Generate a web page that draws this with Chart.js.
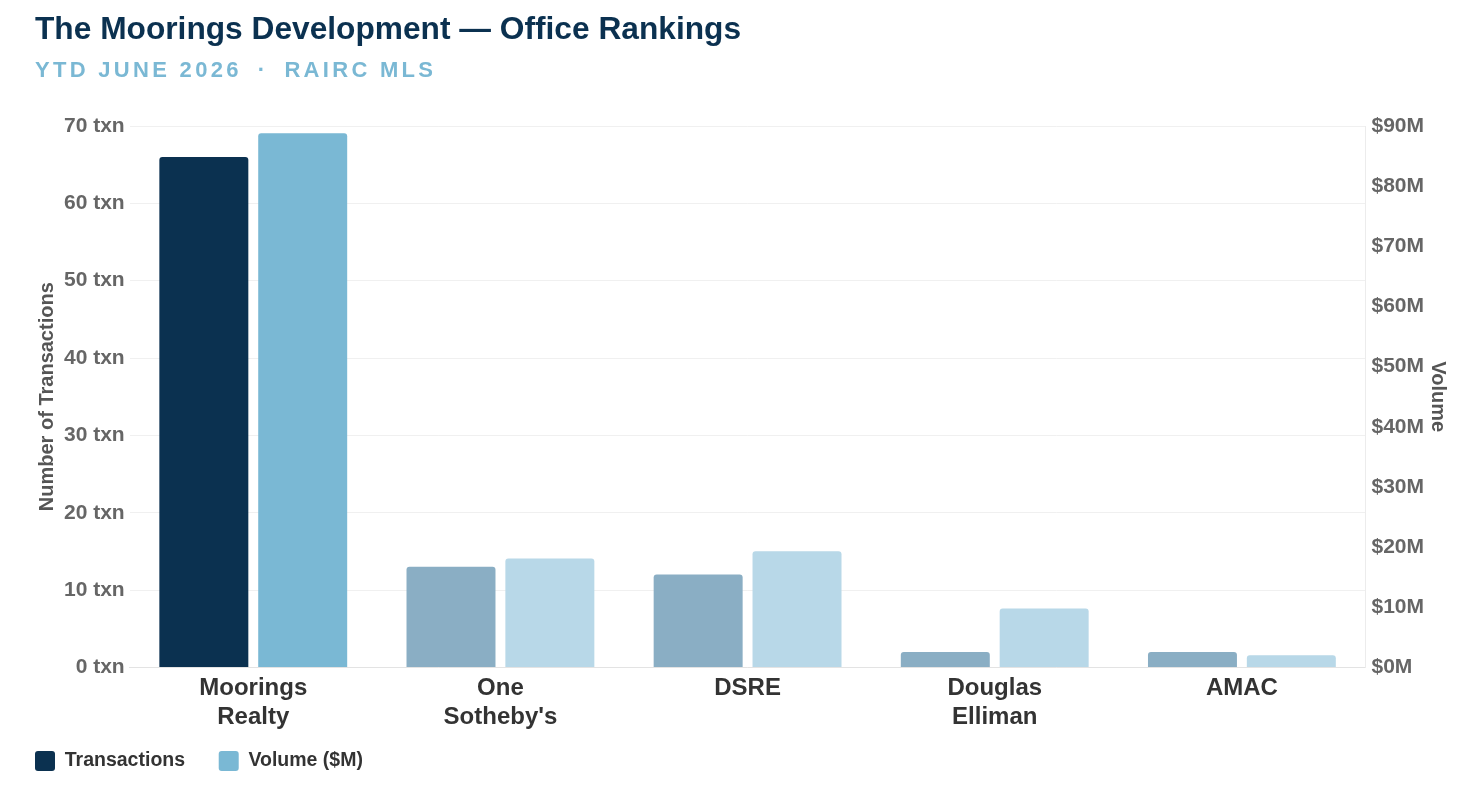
<!DOCTYPE html>
<html>
<head>
<meta charset="utf-8">
<script src="https://cdn.jsdelivr.net/npm/chart.js@4.4.1/dist/chart.umd.min.js"></script>
<style>
  body { margin: 0; background: #fff; font-family: "Liberation Sans", Arial, sans-serif; }
  #wrap { position: absolute; left: 0; top: 0; width: 1470px; height: 792px; }
  .title { position: absolute; left: 35px; top: 10px; font-size: 31.7px; line-height: 36px; font-weight: bold; color: #0b3150; white-space: nowrap; }
  .sub { position: absolute; left: 35px; top: 57px; font-size: 22px; line-height: 26px; font-weight: bold; color: #7ab8d4; letter-spacing: 3.3px; white-space: nowrap; }
</style>
</head>
<body>
<div id="wrap"><canvas id="chart"></canvas></div>
<div class="title">The Moorings Development — Office Rankings</div>
<div class="sub">YTD JUNE 2026<span style="margin:0 16px">·</span>RAIRC MLS</div>
<script>
var categories = [["Moorings", "Realty"], ["One", "Sotheby's"], "DSRE", ["Douglas", "Elliman"], "AMAC"];
var transactions = [66, 13, 12, 2, 2];
var volumeM = [88.8, 18.1, 19.3, 9.8, 2.0];
var txnTicks = [0, 10, 20, 30, 40, 50, 60, 70];
var volTicks = [0, 10, 20, 30, 40, 50, 60, 70, 80, 90];

// first office is highlighted, the rest are muted
var txnColors = ["#0b3150", "#8aaec4", "#8aaec4", "#8aaec4", "#8aaec4"];
var volColors = ["#7ab8d4", "#b8d8e8", "#b8d8e8", "#b8d8e8", "#b8d8e8"];
var legendColors = ["#0b3150", "#7ab8d4"];

var font = '"Liberation Sans", Arial, sans-serif';

var ctx = document.getElementById("chart").getContext("2d");
var chart = new Chart(ctx, {
  type: "bar",
  data: {
    labels: categories,
    datasets: [
      {
        label: "Transactions",
        data: transactions,
        backgroundColor: txnColors,
        borderRadius: 3,
        yAxisID: "y",
      },
      {
        label: "Volume ($M)",
        data: volumeM,
        backgroundColor: volColors,
        borderRadius: 3,
        yAxisID: "y1",
      },
    ],
  },
  options: {
    responsive: true,
    maintainAspectRatio: false,
    animation: false,
    layout: {
      padding: { top: 126, left: 23, right: 19, bottom: 11 },
    },
    scales: {
      x: {
        grid: { display: false, drawTicks: false },
        border: { color: "#e3e3e3" },
        ticks: {
          color: "#333",
          font: { family: font, size: 24, weight: "bold" },
          padding: 7,
        },
      },
      y: {
        position: "left",
        min: 0,
        max: 70,
        afterBuildTicks: function (axis) {
          axis.ticks = txnTicks.map(function (v) { return { value: v }; });
        },
        grid: { color: "#f0f0f0", drawTicks: false },
        border: { display: false },
        ticks: {
          color: "#666",
          font: { family: font, size: 21, weight: "bold" },
          padding: 5,
          callback: function (v) { return v + " txn"; },
        },
        title: {
          display: true,
          text: "Number of Transactions",
          color: "#555",
          font: { family: font, size: 20, weight: "bold" },
          padding: { top: 12, bottom: 0 },
        },
      },
      y1: {
        position: "right",
        min: 0,
        max: 90,
        afterBuildTicks: function (axis) {
          axis.ticks = volTicks.map(function (v) { return { value: v }; });
        },
        afterFit: function (scale) {
          scale.width -= 4;
        },
        grid: { drawOnChartArea: false, drawTicks: false },
        border: { display: true, color: "#ececec" },
        ticks: {
          color: "#666",
          font: { family: font, size: 21, weight: "bold" },
          padding: 6,
          callback: function (v) { return "$" + v + "M"; },
        },
        title: {
          display: true,
          text: "Volume",
          color: "#555",
          font: { family: font, size: 20, weight: "bold" },
          padding: { top: 1, bottom: 0 },
        },
      },
    },
    plugins: {
      title: { display: false },
      tooltip: { enabled: false },
      legend: {
        position: "bottom",
        align: "start",
        labels: {
          color: "#333",
          font: { family: font, size: 19.5, weight: "bold" },
          boxWidth: 20,
          boxHeight: 20,
          useBorderRadius: true,
          borderRadius: 3,
          padding: 12,
          generateLabels: function (c) {
            var items = Chart.defaults.plugins.legend.labels.generateLabels(c);
            items.forEach(function (it, i) {
              it.fillStyle = legendColors[i];
              it.strokeStyle = legendColors[i];
              it.lineWidth = 0;
              // extra trailing room so the second item sits further right
              if (i === 0) it.text = it.text + "    ";
            });
            return items;
          },
        },
      },
    },
  },
});
</script>
</body>
</html>
